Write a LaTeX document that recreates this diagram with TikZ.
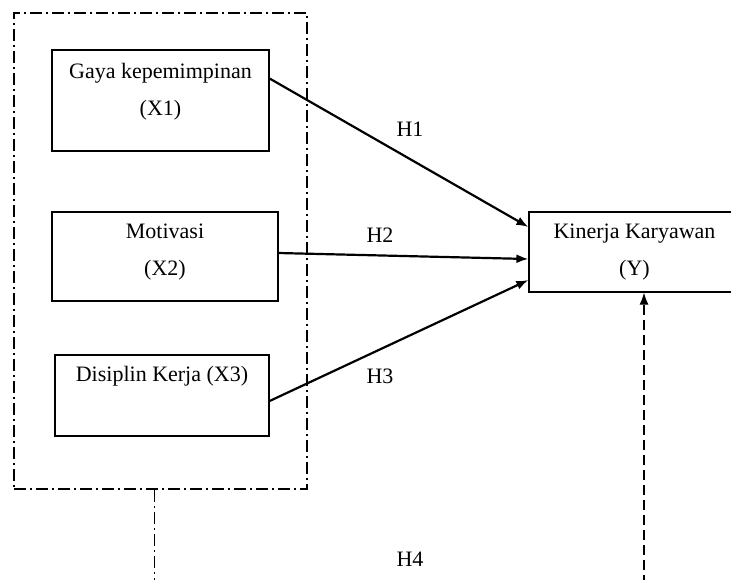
\documentclass[tikz,border=0pt]{standalone}
\usepackage{fontspec}
\setmainfont{Liberation Serif}
\usetikzlibrary{arrows.meta}

\begin{document}
\begin{tikzpicture}[x=0.5pt,y=-0.5pt,>={Latex[length=6pt,width=4.5pt]},font=\fontsize{11}{18.5}\selectfont]
			\tikzstyle{block} = [rectangle, draw, line width=0.6pt, inner sep=0pt, align=center];
			\tikzstyle{group} = [draw, line width=0.6pt, dash pattern=on 6pt off 2pt on 1pt off 2pt];
			\useasboundingbox (0,0) rectangle (731,579);
			\draw node [group, rectangle, minimum width=146.5pt, minimum height=238pt] (grp) at (160.5,251) {};
			\draw node [block, minimum width=108.5pt, minimum height=50.5pt, text height=27pt, text depth=12pt] (x1) at (160.5,100.5) {Gaya kepemimpinan\\(X1)};
			\draw node [block, minimum width=113pt, minimum height=44.5pt, text height=27pt, text depth=8pt] (x2) at (165,256.5) {Motivasi\\(X2)};
			\draw node [block, minimum width=107pt, minimum height=40.5pt, text height=9pt, text depth=23pt] (x3) at (162,395.5) {Disiplin Kerja (X3)};
			\draw node [block, minimum width=105.5pt, minimum height=40pt, text height=27pt, text depth=3.5pt] (y) at (634.5,252) {Kinerja Karyawan\\(Y)};
			\coordinate (h4s) at (154,600);
			\coordinate (h4e) at (644,600);
			
			\draw [line width=1.1pt,->] ([yshift=11pt]x1.east) -- ([yshift=12.5pt]y.west);
			\draw [line width=1.1pt,->] ([yshift=1.75pt]x2.east) -- ([yshift=-3.5pt]y.west);
			\draw [line width=1.1pt,->] ([yshift=-2.75pt]x3.east) -- ([yshift=-14pt]y.west);
			\draw node (h1) at (410,129) {H1};
			\draw node (h2) at (380,235.5) {H2};
			\draw node (h3) at (380,376) {H3};
			\draw node (h4) at (410,559.5) {H4};
			% H4: from the group down, and up into Y
			\draw [group, line width=0.5pt] (h4s |- grp.south) -- (h4s);
			\draw [line width=0.6pt, dash pattern=on 5pt off 2.5pt, ->] (h4e) -- (h4e |- y.south);
			
		\end{tikzpicture}
\end{document}
